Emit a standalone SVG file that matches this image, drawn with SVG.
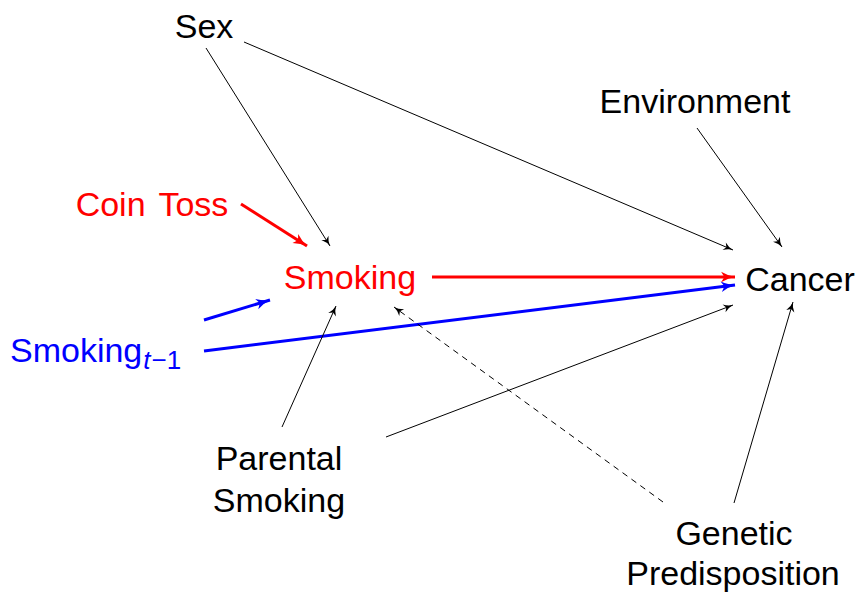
<svg xmlns="http://www.w3.org/2000/svg" width="857" height="596" viewBox="0 0 857 596">
<style>
text{font-family:"Liberation Sans",Arial,sans-serif;font-size:34px;text-anchor:middle;fill:#000}
.r{fill:#f00}.b{fill:#00f}
.k{stroke:#000;stroke-width:1;fill:none}
.red{stroke:#f00;stroke-width:3;fill:none}
.blue{stroke:#00f;stroke-width:3;fill:none}
</style>
<defs>
<marker id="ak" markerUnits="userSpaceOnUse" markerWidth="12" markerHeight="10" viewBox="-9 -4 10 8" refX="0" refY="0" orient="auto"><path d="M-8,-3.5 Q-4,-0.5 0,0 Q-4,0.5 -8,3.5 L-6,0 Z" fill="#000"/></marker>
<marker id="ar" markerUnits="userSpaceOnUse" markerWidth="16" markerHeight="14" viewBox="-14 -6 15 12" refX="0" refY="0" orient="auto"><path d="M-13,-5 Q-6,-1 0,0 Q-6,1 -13,5 L-10,0 Z" fill="#f00"/></marker>
<marker id="ab" markerUnits="userSpaceOnUse" markerWidth="16" markerHeight="14" viewBox="-14 -6 15 12" refX="0" refY="0" orient="auto"><path d="M-13,-5 Q-6,-1 0,0 Q-6,1 -13,5 L-10,0 Z" fill="#00f"/></marker>
</defs>
<g id="connectors">
<line class="k" x1="206" y1="48" x2="330" y2="246" marker-end="url(#ak)"/>
<line class="k" x1="244" y1="42" x2="733" y2="250" marker-end="url(#ak)"/>
<line class="k" x1="697" y1="128" x2="782" y2="247" marker-end="url(#ak)"/>
<line class="red" x1="241" y1="204" x2="307" y2="246" marker-end="url(#ar)"/>
<line class="red" x1="432" y1="277" x2="735" y2="277" marker-end="url(#ar)"/>
<line class="blue" x1="204" y1="320" x2="270" y2="300" marker-end="url(#ab)"/>
<line class="blue" x1="204" y1="351" x2="735" y2="285" marker-end="url(#ab)"/>
<line class="k" x1="282" y1="427" x2="336" y2="306" marker-end="url(#ak)"/>
<line class="k" x1="386" y1="437" x2="733" y2="305" marker-end="url(#ak)"/>
<line class="k" x1="663" y1="502" x2="394" y2="307" stroke-dasharray="6,5" marker-end="url(#ak)"/>
<line class="k" x1="734" y1="503" x2="793" y2="302" marker-end="url(#ak)"/>
</g>
<g id="sex"><text x="204" y="38">Sex</text></g>
<g id="environment"><text x="695" y="113">Environment</text></g>
<g id="cointoss"><text class="r" x="152" y="216" word-spacing="4">Coin Toss</text></g>
<g id="smoking"><text class="r" x="350" y="289">Smoking</text></g>
<g id="cancer"><text x="800" y="291">Cancer</text></g>
<g id="smokingprev"><text class="b" x="10" y="362" style="text-anchor:start">Smoking<tspan font-size="26" font-style="italic" dy="7" dx="1">t</tspan><tspan font-size="26" dx="1">−1</tspan></text></g>
<g id="parental"><text x="279" y="470">Parental</text><text x="279" y="512">Smoking</text></g>
<g id="genetic"><text x="734" y="545">Genetic</text><text x="733" y="585">Predisposition</text></g>
</svg>
